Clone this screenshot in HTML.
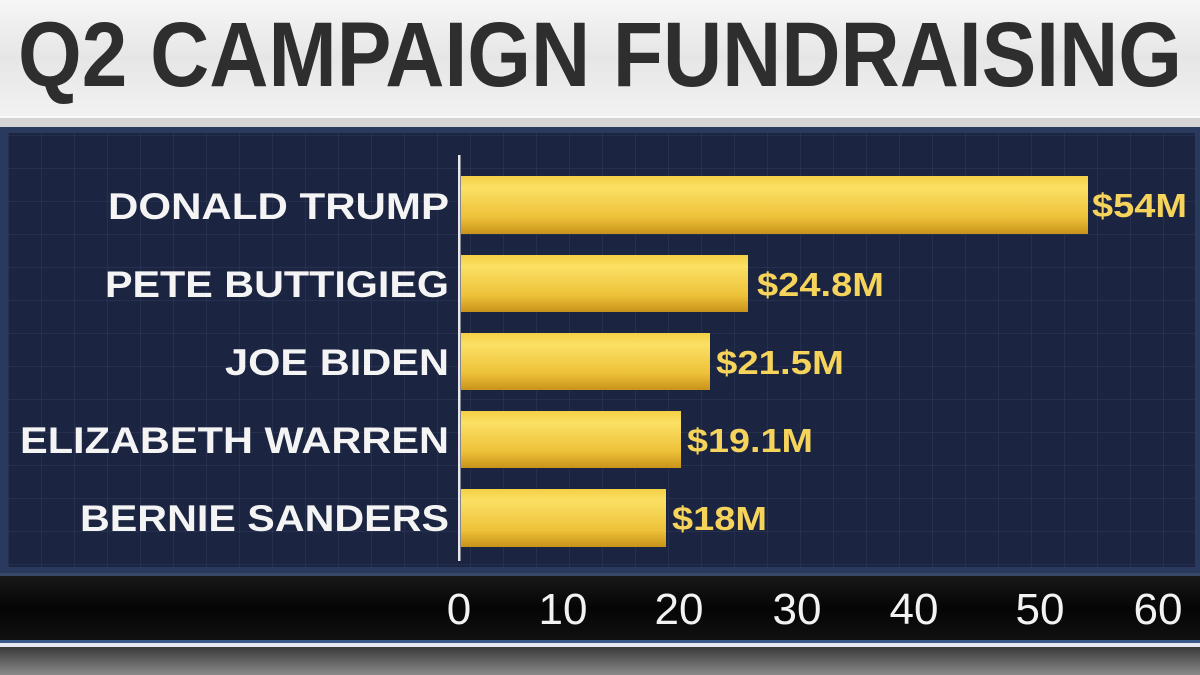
<!DOCTYPE html>
<html><head><meta charset="utf-8"><style>
html,body{margin:0;padding:0;background:#e9e9e9;}
svg{display:block;}
</style></head><body>
<svg width="1200" height="675" viewBox="0 0 1200 675" xmlns="http://www.w3.org/2000/svg">
<defs>
<linearGradient id="tg" x1="0" y1="0" x2="0" y2="1">
<stop offset="0" stop-color="#f6f6f6"/><stop offset="0.5" stop-color="#e6e6e6"/><stop offset="1" stop-color="#f2f2f2"/>
</linearGradient>
<linearGradient id="bar" x1="0" y1="0" x2="0" y2="1">
<stop offset="0" stop-color="#f3cf45"/><stop offset="0.2" stop-color="#fbe064"/><stop offset="0.7" stop-color="#eec23a"/><stop offset="1" stop-color="#c9931a"/>
</linearGradient>
<linearGradient id="ax" x1="0" y1="0" x2="0" y2="1">
<stop offset="0" stop-color="#1a1a1a"/><stop offset="0.5" stop-color="#050505"/><stop offset="1" stop-color="#111"/>
</linearGradient>
<linearGradient id="bot" x1="0" y1="0" x2="0" y2="1">
<stop offset="0" stop-color="#3a3a3a"/><stop offset="1" stop-color="#8a8a8a"/>
</linearGradient>
<pattern id="grid" x="8" y="135" width="33" height="33" patternUnits="userSpaceOnUse">
<path d="M0 0V33M0 0H33" stroke="#3a4868" stroke-width="1" fill="none" opacity="0.7"/>
</pattern>
</defs>
<rect x="0" y="0" width="1200" height="116" fill="url(#tg)"/>
<text x="18" y="86" font-family="Liberation Sans, sans-serif" font-weight="bold" font-size="92" fill="#2e2e2e" textLength="1164" lengthAdjust="spacingAndGlyphs">Q2 CAMPAIGN FUNDRAISING</text>
<rect x="0" y="116" width="1200" height="11" fill="#d4d4d4"/>
<rect x="0" y="116" width="1200" height="2" fill="#fafafa"/>
<rect x="0" y="127" width="1200" height="446" fill="#2a3a5e"/>
<rect x="8" y="133" width="1187" height="434" fill="#1b2440"/>
<rect x="8" y="133" width="1187" height="434" fill="url(#grid)"/>
<rect x="458" y="155" width="2.5" height="406" fill="#e8e8e8"/>
<g fill="url(#bar)">
<rect x="461" y="176" width="627" height="58"/>
<rect x="461" y="255" width="287" height="57"/>
<rect x="461" y="333" width="249" height="57"/>
<rect x="461" y="411" width="220" height="57"/>
<rect x="461" y="489" width="205" height="58"/>
</g>
<g font-family="Liberation Sans, sans-serif" font-weight="bold" font-size="37" fill="#f4f4f4">
<text x="108" y="219" textLength="341" lengthAdjust="spacingAndGlyphs">DONALD TRUMP</text>
<text x="105" y="297" textLength="344" lengthAdjust="spacingAndGlyphs">PETE BUTTIGIEG</text>
<text x="225" y="375" textLength="224" lengthAdjust="spacingAndGlyphs">JOE BIDEN</text>
<text x="20" y="453" textLength="429" lengthAdjust="spacingAndGlyphs">ELIZABETH WARREN</text>
<text x="80" y="531" textLength="369" lengthAdjust="spacingAndGlyphs">BERNIE SANDERS</text>
</g>
<g font-family="Liberation Sans, sans-serif" font-weight="bold" font-size="33" fill="#f6d35a">
<text x="1092" y="217" textLength="95" lengthAdjust="spacingAndGlyphs">$54M</text>
<text x="757" y="296" textLength="127" lengthAdjust="spacingAndGlyphs">$24.8M</text>
<text x="716" y="374" textLength="128" lengthAdjust="spacingAndGlyphs">$21.5M</text>
<text x="687" y="452" textLength="126" lengthAdjust="spacingAndGlyphs">$19.1M</text>
<text x="672" y="530" textLength="95" lengthAdjust="spacingAndGlyphs">$18M</text>
</g>
<rect x="0" y="573" width="1200" height="70" fill="url(#ax)"/>
<rect x="0" y="573" width="1200" height="3" fill="#3a4868"/>
<g font-family="Liberation Sans, sans-serif" font-size="44" fill="#f2f2f2" text-anchor="middle">
<text x="459" y="624">0</text>
<text x="563" y="624">10</text>
<text x="679" y="624">20</text>
<text x="797" y="624">30</text>
<text x="914" y="624">40</text>
<text x="1040" y="624">50</text>
<text x="1158" y="624">60</text>
</g>
<rect x="0" y="640" width="1200" height="3" fill="#3a5a8a"/>
<rect x="0" y="643" width="1200" height="4" fill="#e8e8f0"/>
<rect x="0" y="647" width="1200" height="28" fill="url(#bot)"/>
</svg>
</body></html>
